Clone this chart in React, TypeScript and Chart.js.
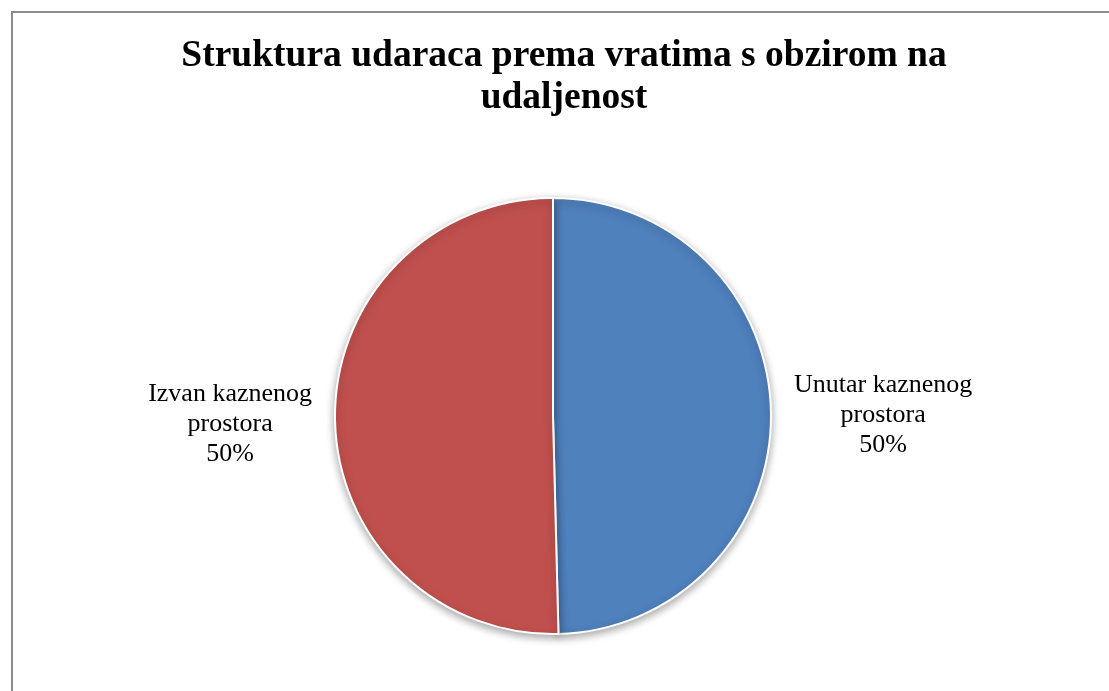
import React, { useEffect, useRef } from "react";
import { Chart, registerables } from "chart.js";

Chart.register(...registerables);

const titleLines = ["Struktura udaraca prema vratima s obzirom na", "udaljenost"];
const categories = [
  ["Unutar kaznenog", "prostora"],
  ["Izvan kaznenog", "prostora"],
];
const shares = [49.6, 50.4];
const sliceColors = ["#4F81BD", "#C0504D"];

const FONT = "'Liberation Serif', 'Times New Roman', serif";

const shadowPlugin = {
  id: "pieShadow",
  beforeDatasetsDraw(chart: any) {
    const ctx = chart.ctx;
    ctx.save();
    ctx.shadowColor = "rgba(0,0,0,0.35)";
    ctx.shadowBlur = 9;
    ctx.shadowOffsetX = 0;
    ctx.shadowOffsetY = 3;
  },
  afterDatasetsDraw(chart: any) {
    chart.ctx.restore();
  },
};

const titlePlugin = {
  id: "frameTitle",
  afterDraw(chart: any) {
    const ctx = chart.ctx;
    ctx.save();
    ctx.font = `bold 37.5px ${FONT}`;
    ctx.fillStyle = "#000";
    ctx.textAlign = "center";
    ctx.textBaseline = "alphabetic";
    titleLines.forEach((t, i) => ctx.fillText(t, 564, 66 + i * 42));
    ctx.restore();
  },
};

const labelPlugin = {
  id: "outsideLabels",
  afterDraw(chart: any) {
    const ctx = chart.ctx;
    const meta = chart.getDatasetMeta(0);
    const data = chart.data.datasets[0].data as number[];
    const total = data.reduce((a, b) => a + b, 0);
    ctx.save();
    ctx.font = `26px ${FONT}`;
    ctx.fillStyle = "#000";
    ctx.textAlign = "center";
    ctx.textBaseline = "alphabetic";
    const lh = 30;
    meta.data.forEach((arc: any, i: number) => {
      const { x, y, startAngle, endAngle, outerRadius } = arc.getProps(
        ["x", "y", "startAngle", "endAngle", "outerRadius"],
        true
      );
      const mid = (startAngle + endAngle) / 2;
      const lbl = chart.data.labels[i];
      const lines = [...(Array.isArray(lbl) ? lbl : [lbl]), `${Math.round((data[i] / total) * 100)}%`];
      const w = Math.max(...lines.map((l: string) => ctx.measureText(l).width));
      const right = Math.cos(mid) >= 0;
      const ax = x + Math.cos(mid) * (outerRadius + 23);
      const ay = y + Math.sin(mid) * (outerRadius + 22);
      const cx = right ? ax + w / 2 : ax - w / 2;
      const first = ay - lh + 9 + (right ? 0 : 3);
      lines.forEach((l: string, k: number) => {
        ctx.fillText(l, cx, first + k * lh);
      });
    });
    ctx.restore();
  },
};

export default function App() {
  const ref = useRef<HTMLCanvasElement>(null);
  useEffect(() => {
    if (!ref.current) return;
    const chart = new Chart(ref.current, {
      type: "pie",
      data: {
        labels: categories as any,
        datasets: [
          {
            data: shares,
            backgroundColor: sliceColors,
            borderColor: "#ffffff",
            borderWidth: 2,
          },
        ],
      },
      options: {
        responsive: false,
        animation: false,
        devicePixelRatio: 1,
        layout: { padding: { top: 197, bottom: 56, left: 0, right: 24 } },
        plugins: {
          legend: { display: false },
          tooltip: { enabled: false },
          title: { display: false },
        },
      },
      plugins: [shadowPlugin, titlePlugin, labelPlugin],
    });
    return () => chart.destroy();
  }, []);
  return (
    <div
      style={{
        position: "fixed",
        left: 0,
        top: 0,
        width: 1109,
        height: 691,
        overflow: "hidden",
        background: "#fff",
      }}
    >
      <div
        style={{
          position: "absolute",
          left: 11,
          top: 11,
          width: 1200,
          height: 800,
          border: "2px solid #8c8c8c",
        }}
      />
      <canvas
        ref={ref}
        width={1130}
        height={691}
        style={{ position: "absolute", left: 0, top: 0, width: 1130, height: 691 }}
      />
    </div>
  );
}
